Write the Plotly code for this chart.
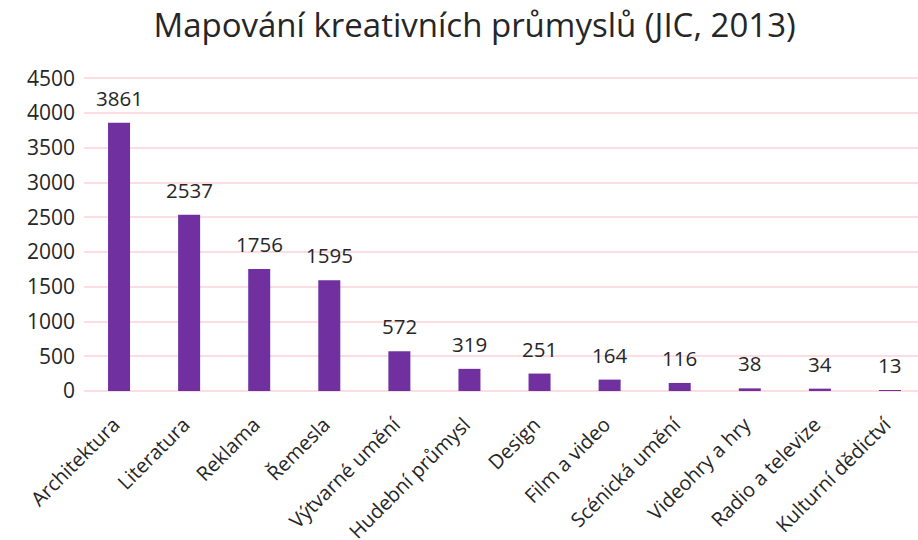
import plotly.graph_objects as go

categories = ["Architektura", "Literatura", "Reklama", "Řemesla", "Výtvarné umění",
              "Hudební průmysl", "Design", "Film a video", "Scénická umění",
              "Videohry a hry", "Radio a televize", "Kulturní dědictví"]
values = [3861, 2537, 1756, 1595, 572, 319, 251, 164, 116, 38, 34, 13]
y_ticks = [0, 500, 1000, 1500, 2000, 2500, 3000, 3500, 4000, 4500]

FONT = "Open Sans, DejaVu Sans, sans-serif"
TXT = "#262626"

fig = go.Figure()
fig.add_trace(go.Bar(x=categories, y=values, marker=dict(color="#7030A0", line=dict(width=0)),
                     hoverinfo="x+y"))

for c, v in zip(categories, values):
    fig.add_annotation(x=c, y=v, text=str(v), showarrow=False, yanchor="bottom",
                       yshift=9, font=dict(family=FONT, size=20.5, color=TXT))

fig.update_layout(
    width=918, height=540,
    margin=dict(l=84, r=0, t=77, b=149),
    paper_bgcolor="white", plot_bgcolor="white",
    bargap=0.686,
    showlegend=False,
    title=dict(text="Mapování kreativních průmyslů (JIC, 2013)", x=0.517, xanchor="center",
               y=0.952, yanchor="middle", xref="container",
               font=dict(family=FONT, size=33, color=TXT)),
    font=dict(family=FONT, color=TXT),
)
fig.update_xaxes(range=[-0.5, 11.4], tickangle=-45, tickfont=dict(family=FONT, size=20, color=TXT),
                 showline=False, showgrid=False, ticks="", automargin=False,
                 ticklabelstandoff=17, ticklabelshift=-5)
fig.update_yaxes(range=[0, 4520], tickvals=y_ticks, tickfont=dict(family=FONT, size=21, color=TXT),
                 showgrid=True, gridcolor="#FCDDE3", gridwidth=1.5, zeroline=True,
                 zerolinecolor="#FCDDE3", zerolinewidth=1.5, showline=False, ticks="",
                 ticklabelstandoff=8, automargin=False)

fig.write_html("out.html", config={"displayModeBar": False},
               post_script="document.body.style.margin='0';")
